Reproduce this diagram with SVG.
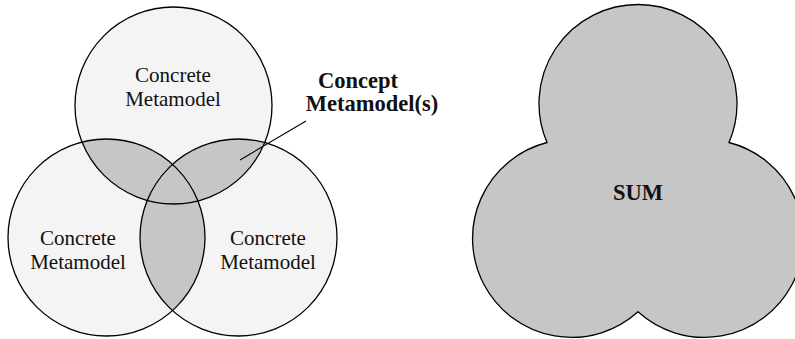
<svg xmlns="http://www.w3.org/2000/svg" width="795" height="339" viewBox="0 0 795 339">
<style>
.c{fill:#f4f4f4;stroke:none}
.o{fill:none;stroke:#000;stroke-width:1.3}
.g{fill:#c6c6c6;stroke:none}
.t{font-family:"Liberation Serif","DejaVu Serif",serif;font-size:21px;fill:#111;text-anchor:middle}
.b{font-weight:bold;font-size:22.5px}
</style>
<defs>
<clipPath id="cpT"><circle cx="173.5" cy="105.5" r="98.5"/></clipPath>
<clipPath id="cpL"><circle cx="106.5" cy="237.5" r="98.5"/></clipPath>
</defs>
<rect width="795" height="339" fill="#fff"/>
<g id="fills">
<circle class="c" cx="173.5" cy="105.5" r="98.5"/>
<circle class="c" cx="106.5" cy="237.5" r="98.5"/>
<circle class="c" cx="238.5" cy="237.5" r="98.5"/>
<circle class="g" cx="106.5" cy="237.5" r="98.5" clip-path="url(#cpT)"/>
<circle class="g" cx="238.5" cy="237.5" r="98.5" clip-path="url(#cpT)"/>
<circle class="g" cx="238.5" cy="237.5" r="98.5" clip-path="url(#cpL)"/>
</g>
<g id="node-top">
<circle class="o" cx="173.5" cy="105.5" r="98.5"/>
<text class="t" x="173" y="82">Concrete</text>
<text class="t" x="173" y="106">Metamodel</text>
</g>
<g id="node-left">
<circle class="o" cx="106.5" cy="237.5" r="98.5"/>
<text class="t" x="78" y="245">Concrete</text>
<text class="t" x="78" y="269">Metamodel</text>
</g>
<g id="node-right">
<circle class="o" cx="238.5" cy="237.5" r="98.5"/>
<text class="t" x="268" y="245">Concrete</text>
<text class="t" x="268" y="269">Metamodel</text>
</g>
<g id="connectors">
<line x1="240" y1="160" x2="306" y2="121" stroke="#000" stroke-width="1.1"/>
</g>
<g id="node-concept">
<text class="t b" x="358" y="88">Concept</text>
<text class="t b" x="372" y="111">Metamodel(s)</text>
</g>
<g id="node-sum">
<path d="M547,142.5 A99,99 0 1 1 729,142.5 A99,99 0 1 1 638,311.8 A99,99 0 1 1 547,142.5 Z" fill="#c6c6c6" stroke="#000" stroke-width="1.3"/>
<text class="t b" x="638" y="200">SUM</text>
</g>
</svg>
